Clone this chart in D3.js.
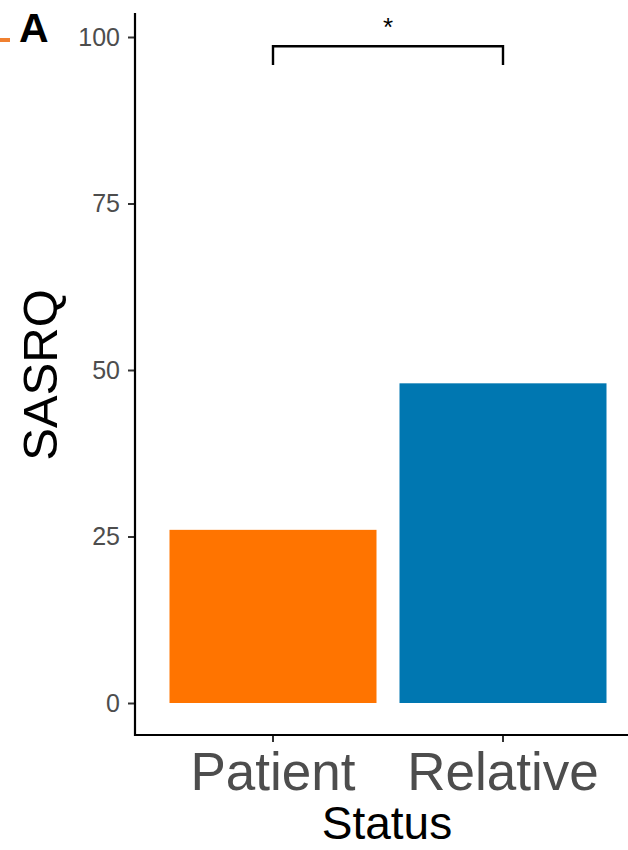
<!DOCTYPE html>
<html>
<head>
<meta charset="utf-8">
<script src="https://cdn.jsdelivr.net/npm/d3@7"></script>
<style>
  body { margin: 0; background: #fff; }
  svg { display: block; font-family: "Liberation Sans", Arial, sans-serif; }
</style>
</head>
<body>
<script>
// chart values
const categories = ["Patient", "Relative"];
const sasrq = [26, 48];
const barColors = ["#ff7400", "#0077b1"];
const yTicks = [0, 25, 50, 75, 100];
const bracketY = 98.6, bracketTip = 95.8;

let WIDTH = 628,
    HEIGHT = 850;

let svg = d3.select("body").append("svg")
  .attr("width", WIDTH)
  .attr("height", HEIGHT);

let x = d3.scaleBand()
  .domain(categories)
  .range([135, 641])
  .paddingInner(0.1)
  .paddingOuter(0.15);

let y = d3.scaleLinear()
  .domain([0, 100])
  .range([703, 37]);

// bars
svg.selectAll(".bar")
  .data(categories)
  .enter().append("rect")
    .attr("class", "bar")
    .attr("x", d => x(d))
    .attr("width", x.bandwidth())
    .attr("y", (d, i) => y(sasrq[i]))
    .attr("height", (d, i) => y(0) - y(sasrq[i]))
    .style("fill", (d, i) => barColors[i]);

// y axis
let yAxis = svg.append("g")
  .attr("transform", "translate(135,0)")
  .call(d3.axisLeft(y).tickValues(yTicks).tickSize(7).tickPadding(8));
yAxis.select(".domain").remove();
yAxis.append("line")
  .attr("x1", 0).attr("x2", 0)
  .attr("y1", 13).attr("y2", 736)
  .attr("stroke", "#000").attr("stroke-width", 2.2);
yAxis.selectAll(".tick line").attr("stroke", "#333").attr("stroke-width", 2);
yAxis.selectAll(".tick text")
  .attr("fill", "#4d4d4d")
  .style("font-size", "25px")
  .attr("font-family", "Liberation Sans, Arial, sans-serif");

// x axis
let xAxis = svg.append("g")
  .attr("transform", "translate(0,735)")
  .call(d3.axisBottom(x).tickSize(7).tickPadding(10));
xAxis.select(".domain").remove();
xAxis.append("line")
  .attr("x1", 134).attr("x2", WIDTH)
  .attr("y1", 0).attr("y2", 0)
  .attr("stroke", "#000").attr("stroke-width", 2.2);
xAxis.selectAll(".tick line").attr("stroke", "#333").attr("stroke-width", 2);
xAxis.selectAll(".tick text")
  .attr("fill", "#4d4d4d")
  .attr("dy", "0.71em")
  .style("font-size", "53px")
  .attr("font-family", "Liberation Sans, Arial, sans-serif");

// axis titles
svg.append("text")
  .attr("x", 387)
  .attr("y", 839)
  .attr("text-anchor", "middle")
  .style("font-size", "46px")
  .attr("fill", "#000")
  .text("Status");

svg.append("text")
  .attr("transform", "translate(57,375) rotate(-90)")
  .attr("text-anchor", "middle")
  .style("font-size", "49px")
  .attr("fill", "#000")
  .text("SASRQ");

// significance bracket
let c0 = x(categories[0]) + x.bandwidth() / 2,
    c1 = x(categories[1]) + x.bandwidth() / 2;
svg.append("path")
  .attr("d", "M" + c0 + "," + y(bracketTip) + "V" + y(bracketY) + "H" + c1 + "V" + y(bracketTip))
  .attr("fill", "none")
  .attr("stroke", "#000")
  .attr("stroke-width", 2.4);
svg.append("text")
  .attr("x", (c0 + c1) / 2)
  .attr("y", 36)
  .attr("text-anchor", "middle")
  .style("font-size", "26px")
  .text("*");

// panel tag
svg.append("text")
  .attr("x", 19)
  .attr("y", 42)
  .style("font-size", "41px")
  .style("font-weight", "bold")
  .text("A");

// bit of the neighbouring panel at the left edge
svg.append("line")
  .attr("x1", 0).attr("x2", 10)
  .attr("y1", 40).attr("y2", 40)
  .attr("stroke", "#f08030")
  .attr("stroke-width", 4);
</script>
</body>
</html>
